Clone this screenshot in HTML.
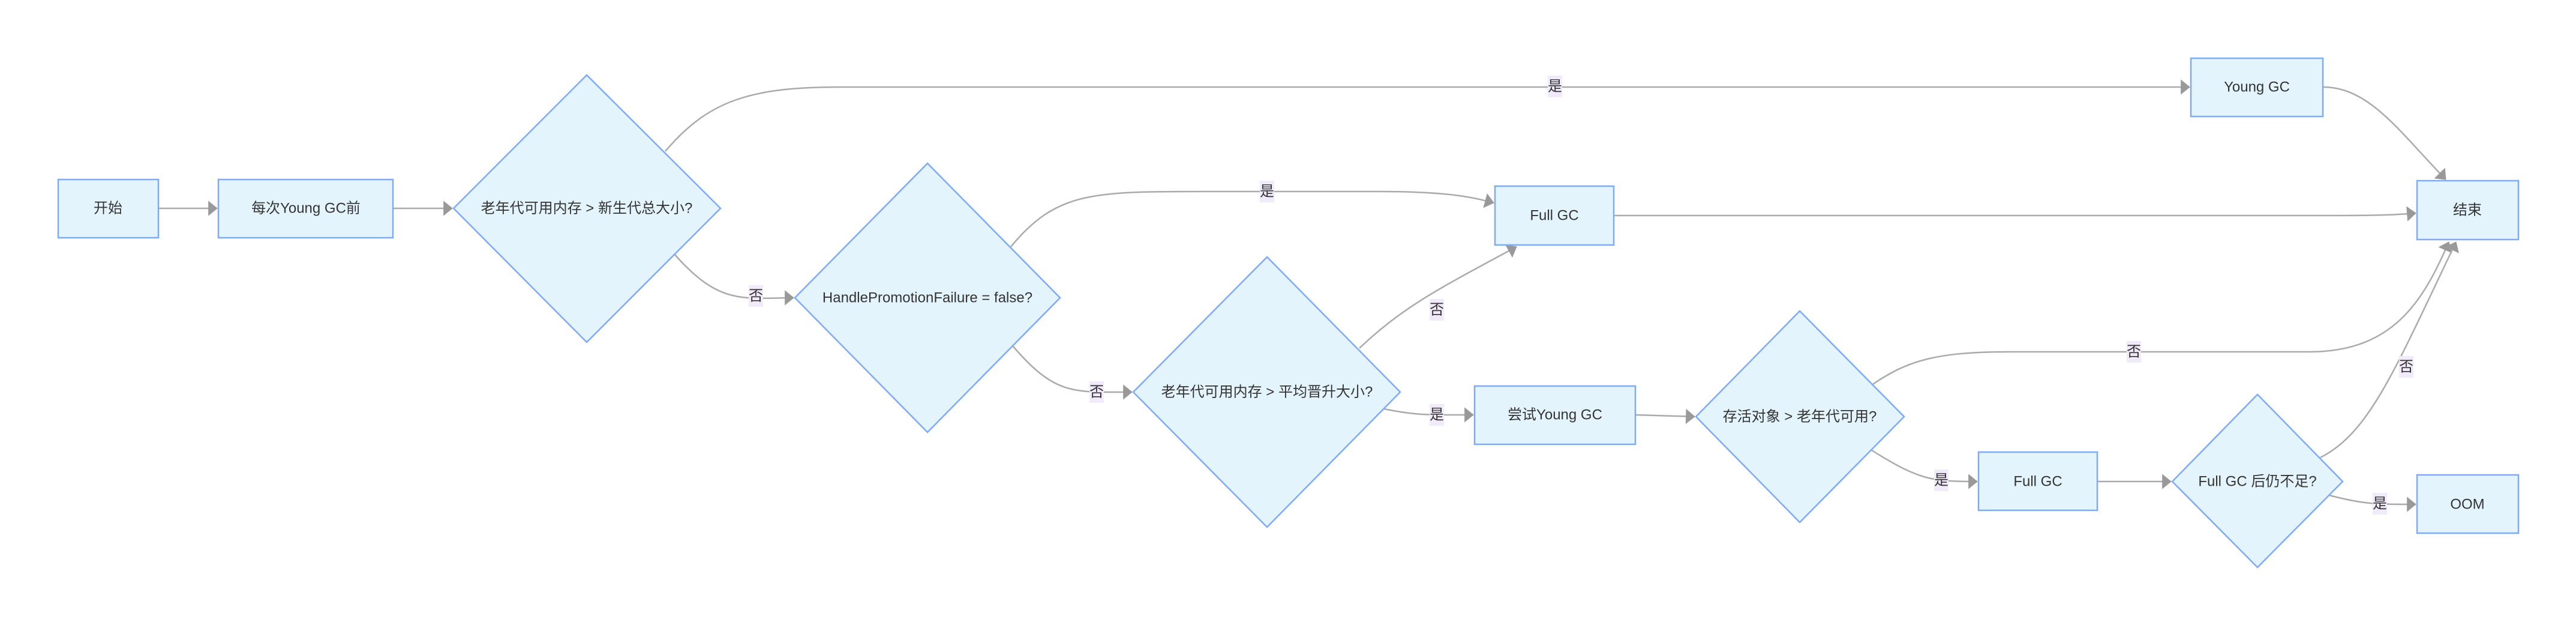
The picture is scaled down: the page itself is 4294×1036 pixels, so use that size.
<!DOCTYPE html>
<html><head><meta charset="utf-8"><style>
html,body{margin:0;padding:0;background:#fff;}
svg text{font-family:"Liberation Sans","Noto Sans CJK SC",sans-serif;font-size:24px;fill:#333;}
</style></head><body>
<svg width="4294" height="1031" viewBox="0 0 4294 1031" xmlns="http://www.w3.org/2000/svg">
<defs>
<marker id="a" viewBox="0 0 10 10" refX="9" refY="5" markerWidth="9" markerHeight="9" markerUnits="userSpaceOnUse" orient="auto" style="overflow:visible">
<path d="M-14,-8 L2,5 L-14,18 Z" fill="#999" stroke="#999" transform="translate(7,0)"/>
</marker>
</defs>
<g fill="none" stroke="#aaa" stroke-width="2.5" marker-end="url(#a)">
<path d="M264,347 L362,347"/>
<path d="M655,347 L754,347"/>
<path d="M1109,252 C1180,168 1250,145 1400,145 L3650,145"/>
<path d="M1124,423 C1200,510 1240,496 1323,496"/>
<path d="M1685,411 C1760,320 1820,319 2000,319 L2300,319 C2420,319 2460,330 2490,338"/>
<path d="M1688,576 C1760,660 1790,653 1887,653"/>
<path d="M2266,580 C2340,510 2400,480 2528,411"/>
<path d="M2307,681 C2360,692 2380,691 2456,691"/>
<path d="M2690,359 L3900,359 C3980,359 4000,357 4027,355"/>
<path d="M3872,145 C3950,145 4000,220 4077,299"/>
<path d="M2726,691 L2825,694"/>
<path d="M3122,640 C3180,600 3230,586 3350,586 L3850,586 C3990,586 4040,500 4082,403"/>
<path d="M3120,750 C3200,800 3220,802 3296,802"/>
<path d="M3496,802 L3619,802"/>
<path d="M3868,762 C3950,720 3990,620 4094,403"/>
<path d="M3883,825 C3940,840 3960,840 4027,840"/>
</g>
<g fill="#e4f4fd" stroke="#7eaaf8" stroke-width="2.5">
<rect x="97" y="299" width="167" height="97"/>
<rect x="364" y="299" width="291" height="97"/>
<polygon points="978,125 1201,347 978,570 756,347"/>
<polygon points="1546,272 1767,496 1546,720 1325,496"/>
<rect x="2492" y="310" width="198" height="98"/>
<polygon points="2112,428 2334,653 2112,878 1889,653"/>
<rect x="2458" y="643" width="268" height="97"/>
<rect x="3652" y="97" width="220" height="97"/>
<rect x="4029" y="301" width="169" height="98"/>
<polygon points="3000,518 3174,694 3000,870 2827,694"/>
<rect x="3298" y="753" width="198" height="97"/>
<polygon points="3763,657 3905,802 3763,945 3621,802"/>
<rect x="4029" y="791" width="169" height="97"/>
</g>
<g text-anchor="middle" dominant-baseline="central">
<text x="180" y="347">开始</text>
<text x="510" y="347">每次Young GC前</text>
<text x="978" y="347">老年代可用内存 &gt; 新生代总大小?</text>
<text x="1546" y="496">HandlePromotionFailure = false?</text>
<text x="2591" y="359">Full GC</text>
<text x="2112" y="653">老年代可用内存 &gt; 平均晋升大小?</text>
<text x="2592" y="691">尝试Young GC</text>
<text x="3762" y="145">Young GC</text>
<text x="4113" y="350">结束</text>
<text x="3000" y="694">存活对象 &gt; 老年代可用?</text>
<text x="3397" y="802">Full GC</text>
<text x="3763" y="802">Full GC 后仍不足?</text>
<text x="4113" y="840">OOM</text>
</g>
<g fill="#f1eafb">
<rect x="2580" y="126" width="24" height="36"/>
<rect x="1248" y="475" width="24" height="36"/>
<rect x="2100" y="301" width="24" height="36"/>
<rect x="1816" y="635" width="24" height="36"/>
<rect x="2383" y="498" width="24" height="36"/>
<rect x="2383" y="673" width="24" height="36"/>
<rect x="3545" y="568" width="24" height="36"/>
<rect x="3999" y="593" width="24" height="36"/>
<rect x="3224" y="782" width="24" height="36"/>
<rect x="3955" y="821" width="24" height="36"/>
</g>
<g text-anchor="middle" dominant-baseline="central">
<text x="2592" y="144">是</text>
<text x="1260" y="493">否</text>
<text x="2112" y="319">是</text>
<text x="1828" y="653">否</text>
<text x="2395" y="516">否</text>
<text x="2395" y="691">是</text>
<text x="3557" y="586">否</text>
<text x="4011" y="611">否</text>
<text x="3236" y="800">是</text>
<text x="3967" y="839">是</text>
</g>
</svg>
</body></html>
